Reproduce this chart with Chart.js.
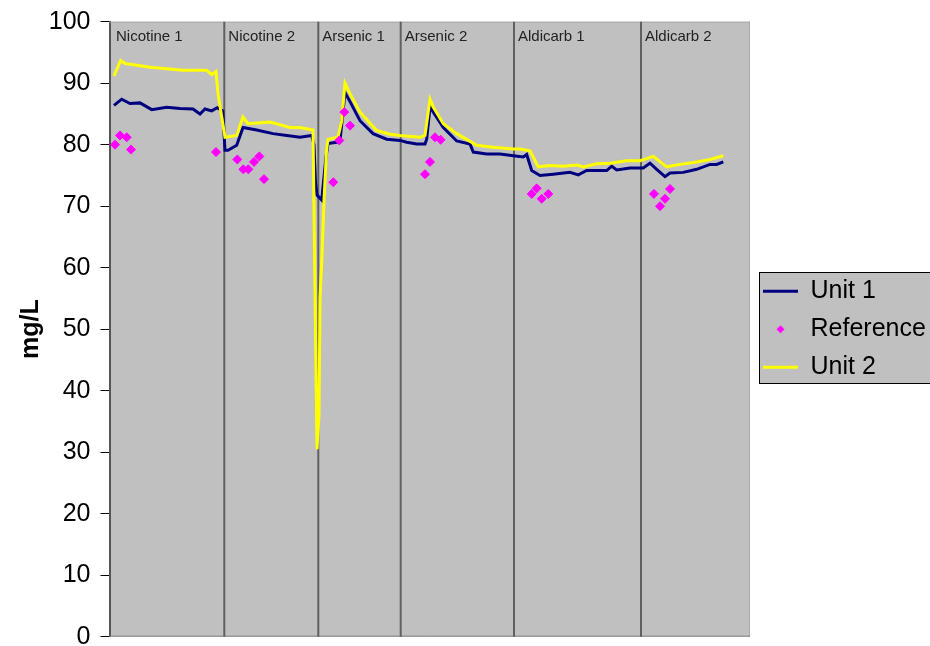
<!DOCTYPE html>
<html><head><meta charset="utf-8">
<script src="https://cdn.jsdelivr.net/npm/chart.js@4"></script>
<style>html,body{margin:0;padding:0;background:#fff;overflow:hidden}</style>
</head><body>
<canvas id="c" width="930" height="646"></canvas>
<script>
// Section names and their starting sample positions
const sectionNames = ['Nicotine 1', 'Nicotine 2', 'Arsenic 1', 'Arsenic 2', 'Aldicarb 1', 'Aldicarb 2'];
const sectionStarts = [0, 114.8, 208.8, 291.2, 404.5, 531.5];
const sampleMax = 640.5;

// Unit 1 (navy)
const unit1X = [4.5,12.2,20.5,30.5,42.2,57.2,70.5,83.5,90.5,95.5,
  102.2,107.8,113.2,115.5,118.5,127.2,133.5,147.2,163.5,177.2,
  190.5,202.2,204.5,206,207.5,212.2,214,216.5,218.5,227.2,
  230.5,235.5,240.5,250.5,263.5,277.2,290.5,297.2,307.2,315.5,
  317.2,320.5,323.8,333.8,347.2,360.5,363.8,377.2,390.5,403.8,
  413.8,417.2,422.2,430.5,443.8,460.5,468.8,477.2,497.2,502.2,
  507.2,520.5,533.8,540.5,547.2,555.5,560.5,573.8,587.2,600.5,
  607.2,613.8];
const unit1Y = [86.4,87.4,86.7,86.8,85.7,86.1,85.9,85.8,85.0,85.8,
  85.5,86.0,85.5,79.1,79.1,79.9,82.8,82.4,81.8,81.5,
  81.2,81.5,80,74,71.8,71.0,74,78,80.2,80.4,
  80.6,88.5,87.0,83.9,81.8,80.9,80.7,80.4,80.1,80.1,
  80.9,86.1,85.3,82.8,80.6,80.1,78.8,78.5,78.5,78.2,
  78.0,78.4,75.8,75.0,75.2,75.5,75.1,75.8,75.8,76.5,
  75.9,76.2,76.2,77.0,76.0,74.8,75.4,75.5,76.0,76.8,
  76.8,77.2];

// Unit 2 (yellow)
const unit2X = [4.5,11.2,15.5,40.5,73.5,97.2,102.2,106.5,108.5,115.5,
  127.2,133.5,138.5,160.5,180.5,190.5,203.5,207.5,209.5,210.5,
  212.5,214.5,217,218.5,228.5,232.2,235.5,240.5,250.5,267.2,
  280.5,290.5,310.5,315.5,320.5,323.8,333.8,347.2,367.2,383.8,
  403.8,410.5,420.5,428.8,440.5,453.8,467.2,473.8,487.2,500.5,
  517.2,530.5,543.8,557.2,570.5,587.2,600.5,613.8];
const unit2Y = [91.2,93.7,93.2,92.6,92.1,92.1,91.4,91.9,88.3,81.2,
  81.5,84.5,83.4,83.7,82.8,82.8,82.4,30.5,36,55,
  62,71,79,80.9,81.2,83.9,90.0,88.3,85.3,82.3,
  81.7,81.5,81.2,81.5,87.4,86.1,83.4,81.8,79.9,79.6,
  79.3,79.3,79.0,76.4,76.6,76.5,76.7,76.4,76.9,77.0,
  77.4,77.4,78.1,76.4,76.8,77.2,77.6,78.2];

// Reference (magenta points)
const refX = [5.5,10.5,17.2,21.5,106.5,127.8,133.8,138.8,144.5,149.8,
  154.5,223.8,229.8,234.8,240.5,315.5,320.5,325.5,331.2,422.2,
  427.2,432.2,438.8,544.5,550.5,555.5,560.5];
const refY = [80.0,81.5,81.2,79.2,78.8,77.6,76.0,76.0,77.2,78.1,
  74.4,73.9,80.7,85.3,83.1,75.2,77.2,81.2,80.8,72.0,
  72.9,71.2,72.0,72.0,70.0,71.2,72.8];

const yTicksMin = 0, yTicksMax = 100, yTickStep = 10;

const toPts = (xs, ys) => xs.map((x, i) => ({x: x, y: ys[i]}));
const FONT = '"Liberation Sans", Arial, sans-serif';
Chart.defaults.font.family = FONT;

// small diamond icon for the Reference legend entry
const refIcon = document.createElement('canvas');
refIcon.width = 9; refIcon.height = 9;
(function () {
  const g = refIcon.getContext('2d');
  g.fillStyle = '#ff00ff';
  g.beginPath();
  g.moveTo(4.5, 0.5); g.lineTo(8.5, 4.5); g.lineTo(4.5, 8.5); g.lineTo(0.5, 4.5);
  g.closePath(); g.fill();
})();

const decorPlugin = {
  id: 'decor',
  beforeDraw(chart) {
    const {ctx, chartArea: a} = chart;
    ctx.save();
    ctx.fillStyle = '#c0c0c0';
    ctx.fillRect(a.left, a.top, a.right - a.left, a.bottom - a.top);
    const lg = chart.legend;
    if (lg && lg.legendHitBoxes && lg.legendHitBoxes.length) {
      const hb = lg.legendHitBoxes;
      const f = hb[0], l = hb[hb.length - 1];
      const x0 = Math.round(f.left - 4), y0 = Math.round(f.top - 7);
      const y1 = Math.round(l.top + l.height + 3);
      ctx.fillStyle = '#c0c0c0';
      ctx.fillRect(x0, y0, 960 - x0, y1 - y0);
      ctx.strokeStyle = '#000';
      ctx.lineWidth = 1;
      ctx.strokeRect(x0 + 0.5, y0 + 0.5, 960 - x0, y1 - y0);
    }
    ctx.restore();
  },
  beforeDatasetsDraw(chart) {
    const {ctx, chartArea: a, scales: {x}} = chart;
    ctx.save();
    ctx.lineWidth = 1;
    ctx.strokeStyle = '#a8a8a8';
    ctx.beginPath();
    ctx.moveTo(a.left, a.top + 0.5); ctx.lineTo(a.right, a.top + 0.5);
    ctx.moveTo(a.right - 0.5, a.top); ctx.lineTo(a.right - 0.5, a.bottom);
    ctx.stroke();
    ctx.strokeStyle = '#808080';
    ctx.beginPath();
    ctx.moveTo(a.left, a.bottom - 0.5); ctx.lineTo(a.right, a.bottom - 0.5);
    ctx.stroke();
    sectionStarts.forEach((s, i) => {
      const px = x.getPixelForValue(s);
      if (i > 0) {
        ctx.strokeStyle = '#606060';
        ctx.lineWidth = 2;
        ctx.beginPath();
        ctx.moveTo(px, a.top); ctx.lineTo(px, a.bottom);
        ctx.stroke();
      }
      ctx.fillStyle = '#222';
      ctx.font = '15px ' + FONT;
      ctx.textBaseline = 'alphabetic';
      ctx.textAlign = 'left';
      ctx.fillText(sectionNames[i], px + (i === 0 ? 6.5 : 4), a.top + 19);
    });
    ctx.restore();
  }
};

new Chart(document.getElementById('c'), {
  type: 'line',
  data: {
    datasets: [
      {
        label: 'Unit 1',
        data: toPts(unit1X, unit1Y),
        borderColor: '#000080',
        backgroundColor: '#000080',
        borderWidth: 3,
        pointRadius: 0,
        pointStyle: 'line',
        pointBorderColor: '#000080',
        pointBorderWidth: 3,
        tension: 0,
        order: 2
      },
      {
        label: 'Reference',
        data: toPts(refX, refY),
        showLine: false,
        borderColor: '#ff00ff',
        backgroundColor: '#ff00ff',
        pointStyle: 'rectRot',
        pointRadius: 4.5,
        pointBorderWidth: 1,
        pointBorderColor: '#ff00ff',
        pointBackgroundColor: '#ff00ff',
        order: 0
      },
      {
        label: 'Unit 2',
        data: toPts(unit2X, unit2Y),
        borderColor: '#ffff00',
        backgroundColor: '#ffff00',
        borderWidth: 3,
        pointRadius: 0,
        pointStyle: 'line',
        pointBorderColor: '#ffff00',
        pointBorderWidth: 3,
        tension: 0,
        order: 1
      }
    ]
  },
  options: {
    responsive: false,
    animation: false,
    devicePixelRatio: 1,
    layout: {padding: {top: 21.7, bottom: 9.3, left: 0, right: 0}},
    plugins: {
      tooltip: {enabled: false},
      legend: {
        position: 'right',
        maxWidth: 180,
        labels: {
          usePointStyle: true,
          pointStyleWidth: 35,
          boxHeight: 6,
          padding: 13,
          color: '#000',
          font: {size: 25, family: FONT},
          generateLabels(chart) {
            const items = Chart.defaults.plugins.legend.labels.generateLabels(chart);
            items.forEach(it => { if (it.datasetIndex === 1) it.pointStyle = refIcon; });
            return items;
          },
          sort: (a, b) => a.datasetIndex - b.datasetIndex
        }
      }
    },
    scales: {
      x: {type: 'linear', min: 0, max: sampleMax, display: false},
      y: {
        min: yTicksMin, max: yTicksMax,
        ticks: {stepSize: yTickStep, color: '#000', padding: 10, font: {size: 25, family: FONT}},
        grid: {drawOnChartArea: false, tickLength: 9, color: '#000', lineWidth: 1},
        border: {color: '#555', width: 2},
        title: {display: true, text: 'mg/L', color: '#000', font: {size: 25, weight: 'bold', family: FONT}, padding: {top: 16, bottom: 0}},
        afterFit(scale) { scale.width = 109.5; scale.paddingTop = 0; scale.paddingBottom = 0; }
      }
    }
  },
  plugins: [decorPlugin]
});
</script>
</body></html>
